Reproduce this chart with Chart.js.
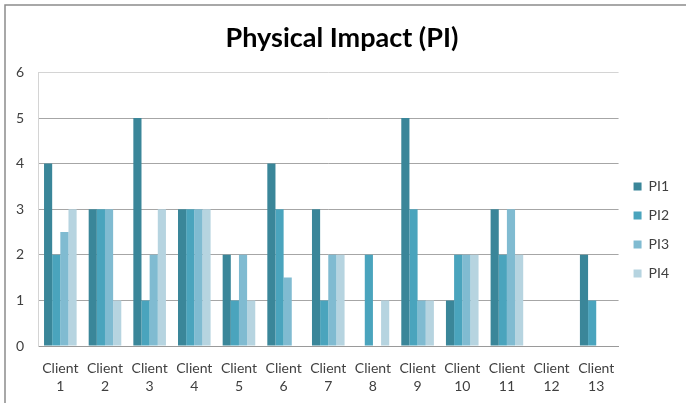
<!DOCTYPE html>
<html>
<head>
<meta charset="utf-8">
<script src="https://cdn.jsdelivr.net/npm/chart.js@4.4.1/dist/chart.umd.min.js"></script>
<style>
    body { margin: 0; background: #fff; }
    #wrap { width: 686px; height: 403px; position: relative; }
</style>
</head>
<body>
<div id="wrap"><canvas id="grafico"></canvas></div>
<script>
// dados
const clientes = ['1', '2', '3', '4', '5', '6', '7', '8', '9', '10', '11', '12', '13'];
const pi1 = [4, 3, 5, 3, 2, 4, 3, 0, 5, 1, 3, 0, 2];
const pi2 = [2, 3, 1, 3, 1, 3, 1, 2, 3, 2, 2, 0, 1];
const pi3 = [2.5, 3, 2, 3, 2, 1.5, 2, 0, 1, 2, 3, 0, 0];
const pi4 = [3, 1, 3, 3, 1, 0, 2, 1, 1, 2, 2, 0, 0];
const yTicks = [0, 1, 2, 3, 4, 5, 6];

const cores = ['#3a8699', '#4aa4bd', '#80bbd1', '#b6d4e0'];
const fonte = 'Lato, "Open Sans", sans-serif';

// moldura do gráfico (só topo e esquerda aparecem)
const moldura = {
    id: 'moldura',
    beforeDraw(chart) {
        const ctx = chart.ctx;
        ctx.save();
        ctx.strokeStyle = '#8c8c8c';
        ctx.lineWidth = 1.5;
        ctx.beginPath();
        ctx.moveTo(5, chart.height + 2);
        ctx.lineTo(5, 5);
        ctx.lineTo(chart.width + 2, 5);
        ctx.stroke();
        ctx.restore();
    }
};

const series = [pi1, pi2, pi3, pi4];

new Chart(document.getElementById('grafico'), {
    type: 'bar',
    data: {
        labels: clientes.map(c => ['Client', c]),
        datasets: series.map((d, i) => ({
            label: 'PI' + (i + 1),
            data: d,
            backgroundColor: cores[i],
            borderWidth: 0,
            barPercentage: 1,
            categoryPercentage: 0.73
        }))
    },
    options: {
        responsive: true,
        maintainAspectRatio: false,
        animation: false,
        layout: { padding: { left: 5, right: 7, top: 22, bottom: 0 } },
        plugins: {
            title: {
                display: true,
                text: 'Physical Impact (PI)',
                color: '#000',
                font: { family: fonte, size: 27, weight: 'bold' },
                padding: { top: 0, bottom: 18 }
            },
            legend: {
                position: 'right',
                // título vazio só para empurrar os itens para baixo
                title: {
                    display: true,
                    text: ' ',
                    font: { size: 1 },
                    padding: { top: 0, bottom: 34 }
                },
                labels: {
                    boxWidth: 8,
                    boxHeight: 8,
                    padding: 15,
                    color: '#404040',
                    font: { family: fonte, size: 14 }
                }
            },
            tooltip: { enabled: false }
        },
        scales: {
            x: {
                afterFit(scale) { scale.height = 57; },
                grid: { display: false, drawTicks: false },
                border: { color: '#9a9a9a' },
                ticks: {
                    color: '#404040',
                    padding: 13,
                    maxRotation: 0,
                    autoSkip: false,
                    font: { family: fonte, size: 14, lineHeight: 1.3 }
                }
            },
            y: {
                min: 0,
                max: 6,
                afterBuildTicks(scale) {
                    scale.ticks = yTicks.map(v => ({ value: v }));
                },
                afterFit(scale) { scale.width = 33; },
                grid: {
                    drawTicks: false,
                    color: ctx => ctx.tick && ctx.tick.value === 6 ? '#d4d4d4' : '#a6a6a6'
                },
                border: { color: '#d4d4d4' },
                ticks: {
                    color: '#404040',
                    padding: 14,
                    font: { family: fonte, size: 14 }
                }
            }
        }
    },
    plugins: [moldura]
});
</script>
</body>
</html>
